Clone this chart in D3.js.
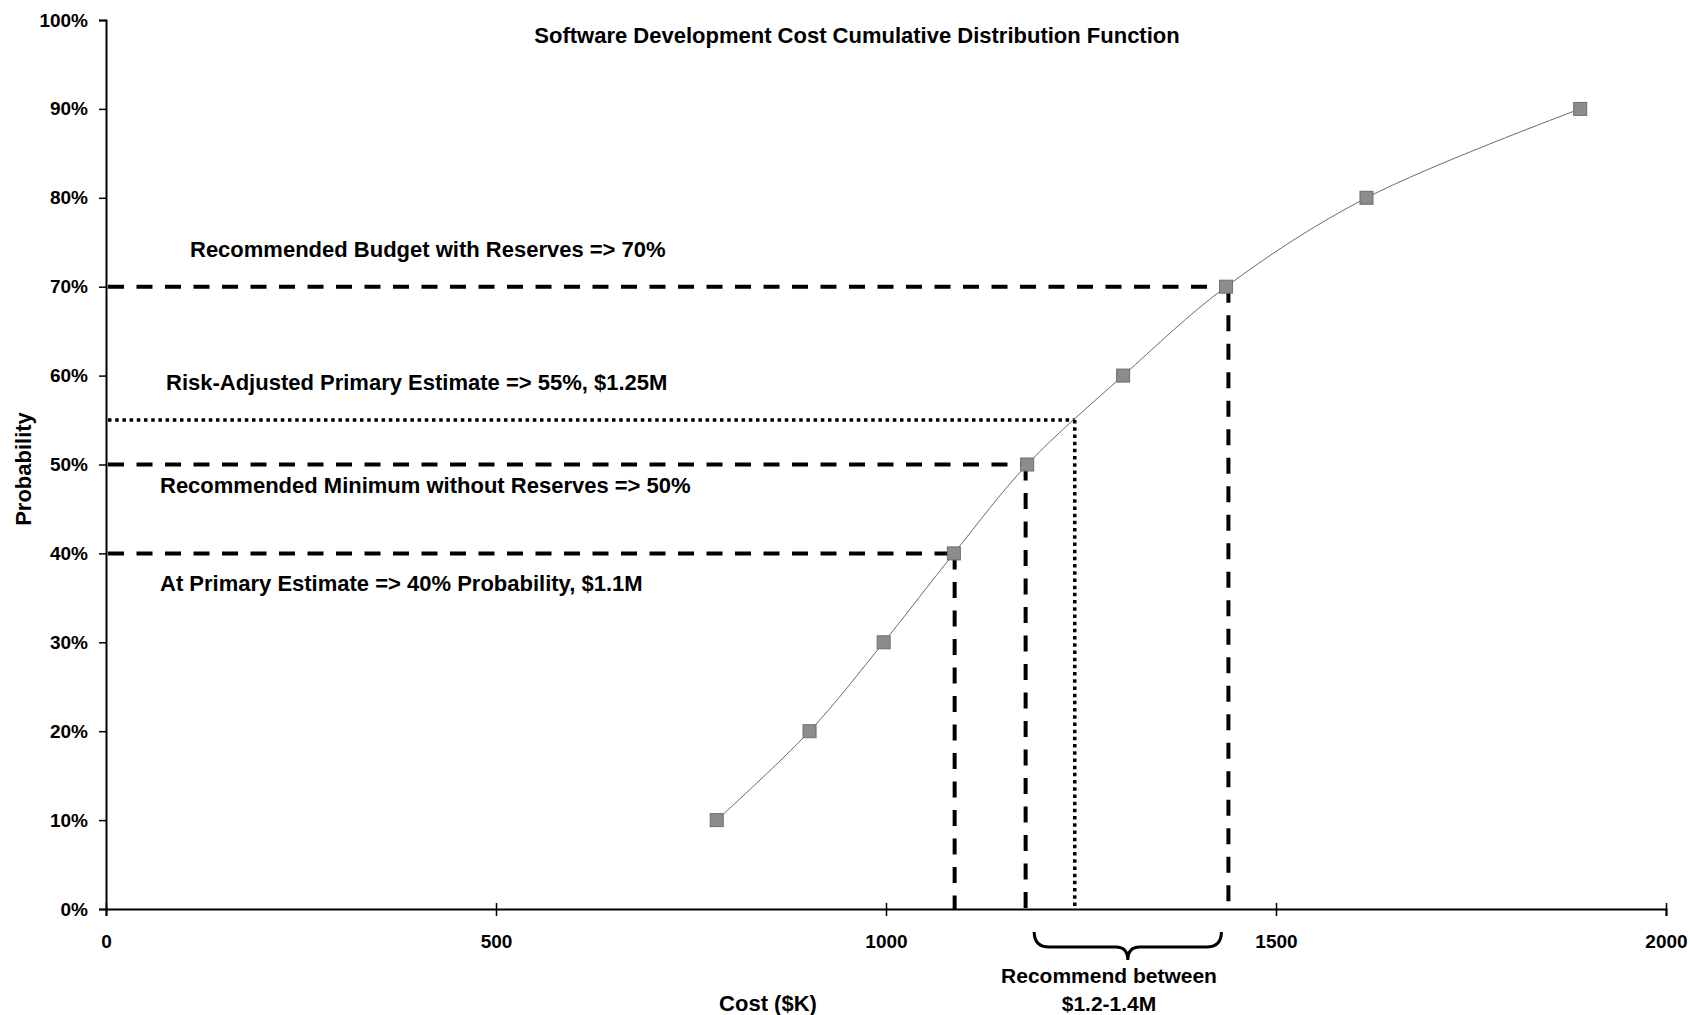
<!DOCTYPE html>
<html>
<head>
<meta charset="utf-8">
<script src="https://cdn.jsdelivr.net/npm/d3@7"></script>
<style>
  body { margin: 0; background: #fff; }
  svg { display: block; }
  text { font-family: "Liberation Sans", Arial, sans-serif; font-weight: bold; fill: #000; }
</style>
</head>
<body>
<div id="chart"></div>
<script>
// cumulative distribution points
const costK = [783, 902, 997, 1087, 1181, 1304, 1436, 1616, 1890];
const probability = [0.10, 0.20, 0.30, 0.40, 0.50, 0.60, 0.70, 0.80, 0.90];

const xTicks = [0, 500, 1000, 1500, 2000];
const yTicks = [0, 0.1, 0.2, 0.3, 0.4, 0.5, 0.6, 0.7, 0.8, 0.9, 1.0];

// reference lines (probability -> cost)
const refProb = [0.70, 0.55, 0.50, 0.40];
const refCost = [1439, 1242, 1179, 1088];
const refKind = ["dash", "dot", "dash", "dash"];
const refLabels = [
  "Recommended Budget with Reserves => 70%",
  "Risk-Adjusted Primary Estimate => 55%, $1.25M",
  "Recommended Minimum without Reserves => 50%",
  "At Primary Estimate => 40% Probability, $1.1M"
];

const braceRange = [1190, 1430];
const braceLabel = ["Recommend between", "$1.2-1.4M"];

const W = 1690, H = 1015;
const svg = d3.select("#chart").append("svg")
  .attr("width", W)
  .attr("height", H);

const x = d3.scaleLinear().domain([0, 2000]).range([106, 1666]);
const y = d3.scaleLinear().domain([0, 1]).range([909, 20]);

// title
svg.append("text")
  .attr("x", 857)
  .attr("y", 43)
  .attr("text-anchor", "middle")
  .style("font-size", "22px")
  .text("Software Development Cost Cumulative Distribution Function");

// y axis
const yAxis = d3.axisLeft(y)
  .tickValues(yTicks)
  .tickFormat(d3.format(".0%"))
  .tickSize(7)
  .tickPadding(11);
const gy = svg.append("g")
  .attr("transform", "translate(" + x(0) + ",0)")
  .call(yAxis);
gy.select(".domain").attr("stroke-width", 2);
gy.selectAll(".tick line").attr("stroke-width", 1.5);
gy.selectAll(".tick text")
  .style("font-size", "19px")
  .style("font-family", "'Liberation Sans', Arial, sans-serif")
  .style("font-weight", "bold");

// x axis (ticks cross the line)
const xAxis = d3.axisBottom(x)
  .tickValues(xTicks)
  .tickFormat(d3.format("d"))
  .tickSizeOuter(0)
  .tickSize(7)
  .tickPadding(19);
const gx = svg.append("g")
  .attr("transform", "translate(0," + y(0) + ")")
  .call(xAxis);
gx.select(".domain").attr("stroke-width", 2);
gx.selectAll(".tick line").attr("y1", -6).attr("stroke-width", 1.5);
gx.selectAll(".tick text")
  .style("font-size", "19px")
  .style("font-family", "'Liberation Sans', Arial, sans-serif")
  .style("font-weight", "bold");

// axis titles
svg.append("text")
  .attr("x", 768)
  .attr("y", 1011)
  .attr("text-anchor", "middle")
  .style("font-size", "22px")
  .text("Cost ($K)");

svg.append("text")
  .attr("transform", "translate(31," + 469 + ") rotate(-90)")
  .attr("text-anchor", "middle")
  .style("font-size", "22px")
  .text("Probability");

// reference lines
const refs = refProb.map((p, i) => ({p: p, c: refCost[i], kind: refKind[i], label: refLabels[i]}));
const dashFor = k => k === "dot" ? "3.5,3.7" : "16,12.5";
const widthFor = k => k === "dot" ? 3.5 : 4;

svg.append("g").selectAll("line.h")
  .data(refs)
  .join("line")
  .attr("class", "h")
  .attr("x1", x(0) + 2)
  .attr("x2", d => x(d.c))
  .attr("y1", d => y(d.p))
  .attr("y2", d => y(d.p))
  .attr("stroke", "#000")
  .attr("stroke-width", d => widthFor(d.kind))
  .attr("stroke-dasharray", d => dashFor(d.kind));

svg.append("g").selectAll("line.v")
  .data(refs)
  .join("line")
  .attr("class", "v")
  .attr("x1", d => x(d.c))
  .attr("x2", d => x(d.c))
  .attr("y1", d => y(d.p))
  .attr("y2", y(0))
  .attr("stroke", "#000")
  .attr("stroke-width", d => widthFor(d.kind))
  .attr("stroke-dasharray", d => dashFor(d.kind));

// annotation labels
const labelX = [190, 166, 160, 160];
const labelDy = [-30, -30, 28, 38];
svg.append("g").selectAll("text")
  .data(refs)
  .join("text")
  .attr("x", (d, i) => labelX[i])
  .attr("y", (d, i) => y(d.p) + labelDy[i])
  .style("font-size", "22px")
  .text(d => d.label);

// cdf curve
const pts = costK.map((c, i) => ({c: c, p: probability[i]}));
const line = d3.line()
  .x(d => x(d.c))
  .y(d => y(d.p))
  .curve(d3.curveCatmullRom);
svg.append("path")
  .datum(pts)
  .attr("d", line)
  .attr("fill", "none")
  .attr("stroke", "#6a6a6a")
  .attr("stroke-width", 1);

const ms = 13;
svg.append("g").selectAll("rect")
  .data(pts)
  .join("rect")
  .attr("x", d => x(d.c) - ms / 2)
  .attr("y", d => y(d.p) - ms / 2)
  .attr("width", ms)
  .attr("height", ms)
  .attr("fill", "#8c8c8c")
  .attr("stroke", "#6e6e6e")
  .attr("stroke-width", 1);

// brace under the recommended range
const bx0 = x(braceRange[0]), bx1 = x(braceRange[1]);
const bm = (bx0 + bx1) / 2;
const bTop = 932, bMid = 947, bTip = 960;
const brace = d3.path();
brace.moveTo(bx0, bTop);
brace.quadraticCurveTo(bx0, bMid, bx0 + 15, bMid);
brace.lineTo(bm - 12, bMid);
brace.quadraticCurveTo(bm, bMid, bm, bTip);
brace.quadraticCurveTo(bm, bMid, bm + 12, bMid);
brace.lineTo(bx1 - 15, bMid);
brace.quadraticCurveTo(bx1, bMid, bx1, bTop);
svg.append("path")
  .attr("d", brace.toString())
  .attr("fill", "none")
  .attr("stroke", "#000")
  .attr("stroke-width", 3);

svg.append("g").selectAll("text")
  .data(braceLabel)
  .join("text")
  .attr("x", 1109)
  .attr("y", (d, i) => 983 + i * 28)
  .attr("text-anchor", "middle")
  .style("font-size", "21px")
  .text(d => d);
</script>
</body>
</html>
